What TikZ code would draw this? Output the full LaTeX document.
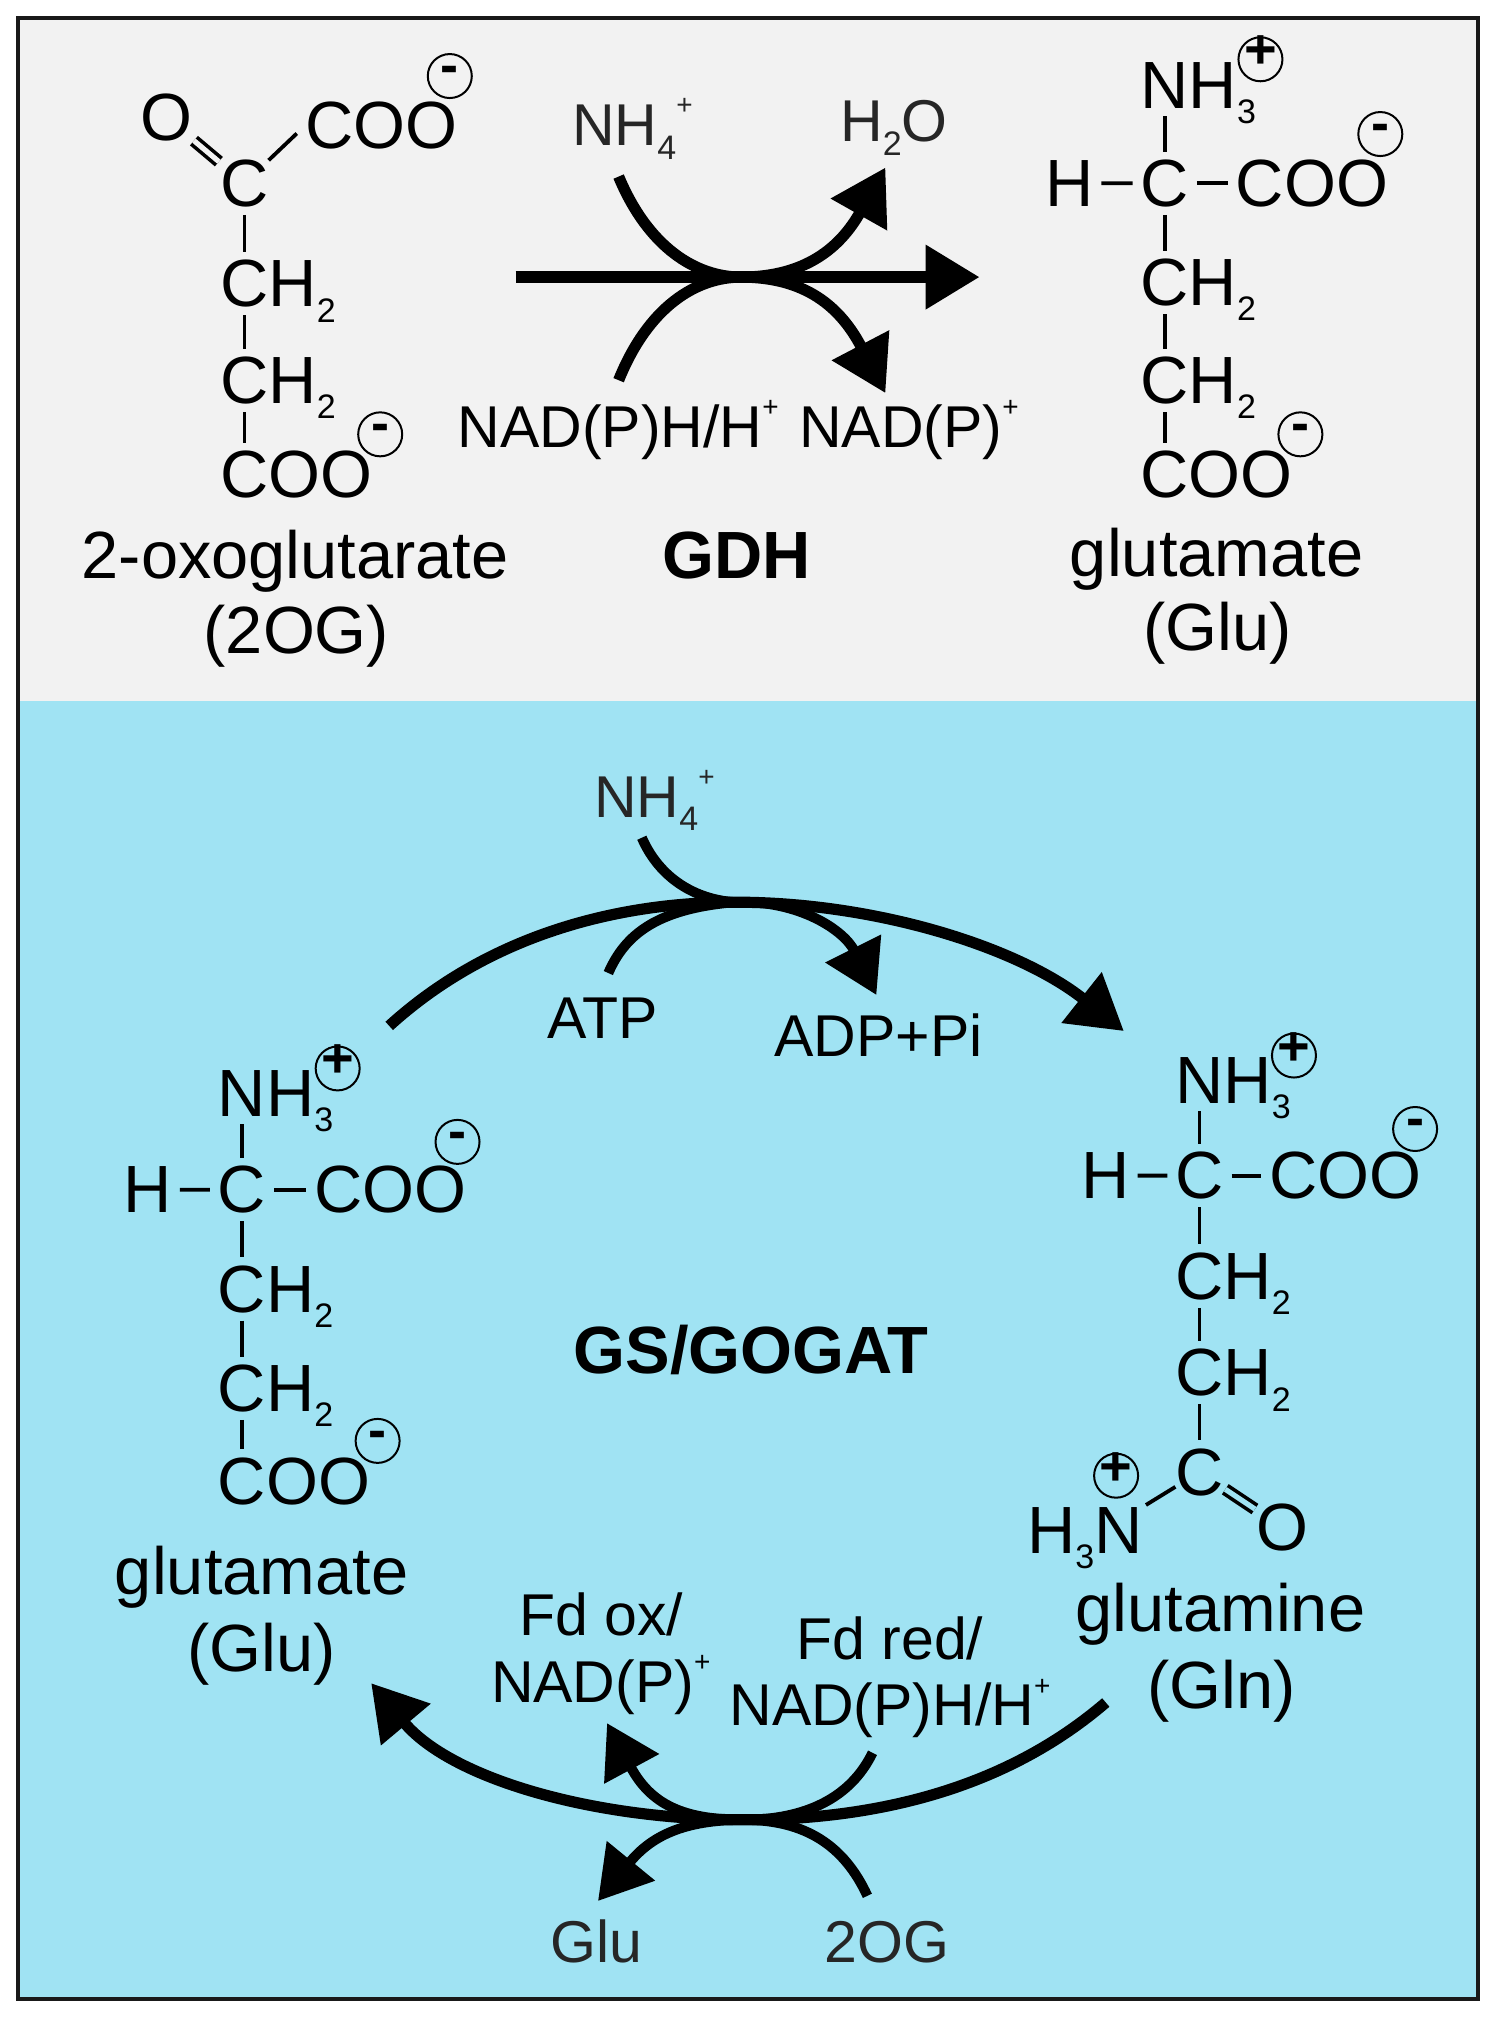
\documentclass[tikz,border=0pt]{standalone}
\usepackage{fontspec}
\setmainfont{Liberation Sans}
\usetikzlibrary{arrows.meta}
\definecolor{panelgray}{HTML}{F2F2F2}
\definecolor{panelblue}{HTML}{A0E3F3}
\definecolor{softink}{HTML}{262626}
\newcommand{\subsc}[1]{\raisebox{-.23em}{\fontsize{17}{17}\selectfont #1}}
\newcommand{\supsc}[1]{\raisebox{.52em}{\fontsize{14}{14}\selectfont #1}}
\newcommand{\chgm}{{\fontsize{27}{27}\selectfont\bfseries\raisebox{-.277em}{\smash{-}}}}
\newcommand{\chgp}{{\fontsize{28}{28}\selectfont\bfseries\raisebox{-.34em}{\smash{+}}}}
\tikzset{
  txt/.style={inner sep=0pt,outer sep=0pt,anchor=base west,font=\fontsize{33.4}{38}\selectfont},
  lbl/.style={txt,font=\fontsize{29.5}{34}\selectfont},
  ctr/.style={txt,anchor=base,align=center},
  soft/.style={text=softink},
  charge/.style={circle,draw=black,line width=1pt,minimum size=22pt,inner sep=0pt,outer sep=0pt},
  bond/.style={draw=black,line width=1.9pt,shorten <=4pt,shorten >=4pt},
  dbond/.style={draw=black,line width=1.8pt,double,double distance=2.6pt,shorten <=1pt,shorten >=1pt},
  rxn/.style={draw=black,line width=5.6pt,line cap=butt,-{Triangle[length=27pt,width=31pt]}},
  rxnthin/.style={draw=black,line width=5pt,line cap=butt,-{Triangle[length=26pt,width=30pt]}},
  rxnplain/.style={draw=black,line width=5pt,line cap=butt},
}
\begin{document}
\begin{tikzpicture}[x=0.6445pt,y=-0.6445pt]
\useasboundingbox (0,0) rectangle (1160,1568.9);
\fill[white] (0,0) rectangle (1160,1568.9);
\fill[panelgray] (14,14) rectangle (1147,544);
\fill[panelblue] (14,544) rectangle (1147,1551);
\draw[line width=2.2pt,draw=black!90] (14,14) rectangle (1147,1551);

% ---- 2-oxoglutarate
\node[txt] (oa) at (109,109) {O};
\node[txt] (ca) at (171,160) {C};
\node[txt] (cooa) at (237,115) {COO};
\node[charge] (mina) at (349,59) {\chgm};
\node[txt] (cb) at (171,238) {C};
\node[txt] at (cb.base east) {H\subsc{2}};
\node[txt] (cc) at (171,313) {C};
\node[txt] at (cc.base east) {H\subsc{2}};
\node[txt] (cooca) at (171,386) {C};
\node[txt] (coocb) at (cooca.base east) {OO};
\node[charge] (minb) at (295,337) {\chgm};
\draw[dbond,double=panelgray] (oa) -- (ca);
\draw[bond,shorten >=6pt,shorten <=0pt] (ca) -- (cooa.west);
\draw[bond] (ca.south) -- (cb.north);
\draw[bond] (cb.south) -- (cc.north);
\draw[bond] (cc.south) -- (cooca.north);
\node[ctr] (oxo) at (229,449) {2-oxoglutarate};
\node[ctr] (ogl) at (230,507) {(2OG)};

% ---- GDH reaction
\node[lbl,soft] (nh4a) at (444,113) {NH\subsc{4}\supsc{+}};
\node[lbl,soft] (h2o) at (652,110) {H\subsc{2}O};
\node[lbl] (nadh) at (355,347) {NAD(P)H/H\supsc{+}};
\node[lbl] (nad) at (620,347) {NAD(P)\supsc{+}};
\node[txt,font=\fontsize{33.4}{38}\selectfont\bfseries] (gdh) at (514,449) {GDH};
\coordinate (ga) at (400,215);
\coordinate (gb) at (760,215);
\coordinate (gs1) at (480,137);
\coordinate (gs2) at (480,295);
\coordinate (ge1) at (687,130);
\coordinate (ge2) at (687,305);
\coordinate (ghub) at (575,215);
\draw[rxn] (ga) -- (gb);
\draw[rxn] (gs1) .. controls (503,192) and (540,215) .. (ghub) .. controls (625,215) and (652,192) .. (ge1);
\draw[rxn] (gs2) .. controls (503,238) and (540,215) .. (ghub) .. controls (625,215) and (652,238) .. (ge2);

% ---- glutamate (top)
\node[txt] (gnh) at (885,84) {N};
\node[txt] at (gnh.base east) {H\subsc{3}};
\node[charge] (gpl) at (978,46) {\chgp};
\node[txt] (gh) at (811,160) {H};
\node[txt] (gc) at (885,160) {C};
\node[txt] (gcoo) at (959,160) {COO};
\node[charge] (gmina) at (1071,104) {\chgm};
\node[txt] (gcb) at (885,237) {C};
\node[txt] at (gcb.base east) {H\subsc{2}};
\node[txt] (gcc) at (885,313) {C};
\node[txt] at (gcc.base east) {H\subsc{2}};
\node[txt] (gcd) at (885,386) {C};
\node[txt] at (gcd.base east) {OO};
\node[charge] (gminb) at (1009,337) {\chgm};
\draw[bond] (gnh.south) -- (gc.north);
\draw[bond] (gh.east) -- (gc.west);
\draw[bond] (gc.east) -- (gcoo.west);
\draw[bond] (gc.south) -- (gcb.north);
\draw[bond] (gcb.south) -- (gcc.north);
\draw[bond] (gcc.south) -- (gcd.north);
\node[ctr] (glua) at (944,447) {glutamate};
\node[ctr] (glub) at (945,505) {(Glu)};

% ---- GS/GOGAT cycle
\node[lbl,soft] (nh4b) at (461,634) {NH\subsc{4}\supsc{+}};
\node[lbl] (atp) at (425,806) {ATP};
\node[lbl] (adp) at (601,820) {ADP+Pi};
\node[txt,font=\fontsize{33.4}{38}\selectfont\bfseries] (gsg) at (445,1066) {GS/GOGAT};
\coordinate (ts) at (302,796);
\coordinate (te) at (872,800);
\coordinate (thub) at (570,700);
\coordinate (ns) at (498,650);
\coordinate (ae) at (680,772);
\coordinate (as) at (472,755);
\draw[rxn] (ts) .. controls (380,725) and (480,700) .. (thub) .. controls (680,700) and (790,735) .. (te);
\draw[rxnthin] (ns) .. controls (512,682) and (540,698) .. (thub) .. controls (620,698) and (655,722) .. (ae);
\draw[rxnplain] (as) .. controls (485,725) and (510,705) .. (thub);

% ---- glutamate (left)
\node[txt] (lnh) at (169,866) {N};
\node[txt] at (lnh.base east) {H\subsc{3}};
\node[charge] (lpl) at (262,829) {\chgp};
\node[txt] (lh) at (96,941) {H};
\node[txt] (lc) at (169,941) {C};
\node[txt] (lcoo) at (244,941) {COO};
\node[charge] (lmina) at (355,886) {\chgm};
\node[txt] (lcb) at (169,1018) {C};
\node[txt] at (lcb.base east) {H\subsc{2}};
\node[txt] (lcc) at (169,1095) {C};
\node[txt] at (lcc.base east) {H\subsc{2}};
\node[txt] (lcd) at (169,1167) {C};
\node[txt] at (lcd.base east) {OO};
\node[charge] (lminb) at (293,1118) {\chgm};
\draw[bond] (lnh.south) -- (lc.north);
\draw[bond] (lh.east) -- (lc.west);
\draw[bond] (lc.east) -- (lcoo.west);
\draw[bond] (lc.south) -- (lcb.north);
\draw[bond] (lcb.south) -- (lcc.north);
\draw[bond] (lcc.south) -- (lcd.north);
\node[ctr] (lga) at (203,1237) {glutamate};
\node[ctr] (lgb) at (203,1297) {(Glu)};

% ---- glutamine (right)
\node[txt] (rnh) at (912,856) {N};
\node[txt] at (rnh.base east) {H\subsc{3}};
\node[charge] (rpl) at (1004,819) {\chgp};
\node[txt] (rh) at (839,930) {H};
\node[txt] (rc) at (912,930) {C};
\node[txt] (rcoo) at (985,930) {COO};
\node[charge] (rmin) at (1098,876) {\chgm};
\node[txt] (rcb) at (912,1008) {C};
\node[txt] at (rcb.base east) {H\subsc{2}};
\node[txt] (rcc) at (912,1083) {C};
\node[txt] at (rcc.base east) {H\subsc{2}};
\node[txt] (rcd) at (912,1160) {C};
\node[txt] (ro) at (975,1203) {O};
\node[txt] (rn) at (797,1205) {H\subsc{3}N};
\node[charge] (rpn) at (866,1145) {\chgp};
\draw[bond] (rnh.south) -- (rc.north);
\draw[bond] (rh.east) -- (rc.west);
\draw[bond] (rc.east) -- (rcoo.west);
\draw[bond] (rc.south) -- (rcb.north);
\draw[bond] (rcb.south) -- (rcc.north);
\draw[bond] (rcc.south) -- (rcd.north);
\draw[bond,shorten <=2pt,shorten >=0pt] (rn.north east) -- (rcd);
\draw[dbond,double=panelblue] (rcd) -- (ro);
\node[ctr] (rga) at (947,1266) {glutamine};
\node[ctr] (rgb) at (948,1326) {(Gln)};

% ---- bottom reaction
\node[lbl] (fdox) at (403,1269) {Fd ox/};
\node[lbl] (nadb) at (381,1321) {NAD(P)\supsc{+}};
\node[lbl] (fdred) at (618,1288) {Fd red/};
\node[lbl] (nadhb) at (566,1339) {NAD(P)H/H\supsc{+}};
\node[lbl,soft] (glux) at (427,1523) {Glu};
\node[lbl,soft] (ogx) at (640,1523) {2OG};
\coordinate (bs) at (858,1321);
\coordinate (be) at (288,1306);
\coordinate (bhub) at (577,1412);
\coordinate (fs) at (677,1360);
\coordinate (fe) at (471,1337);
\coordinate (os) at (673,1471);
\coordinate (oe) at (464,1475);
\draw[rxn] (bs) .. controls (780,1388) and (680,1412) .. (bhub) .. controls (460,1412) and (350,1380) .. (be);
\draw[rxnthin] (fs) .. controls (660,1395) and (625,1412) .. (bhub) .. controls (530,1412) and (505,1400) .. (fe);
\draw[rxnthin] (os) .. controls (655,1432) and (625,1412) .. (bhub) .. controls (530,1412) and (505,1425) .. (oe);
\end{tikzpicture}
\end{document}
